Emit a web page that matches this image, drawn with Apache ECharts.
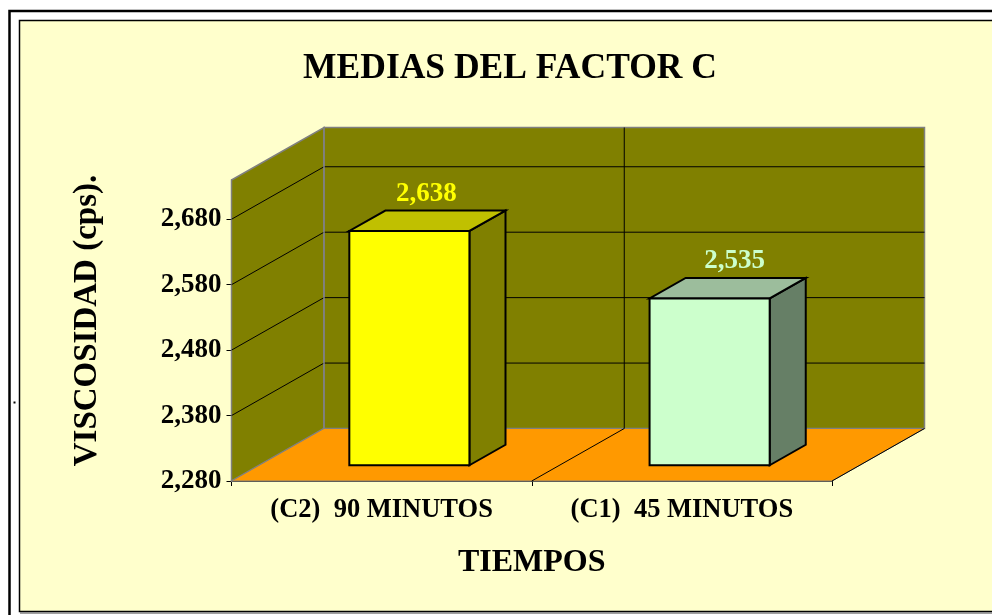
<!DOCTYPE html>
<html>
<head>
<meta charset="utf-8">
<style>
  html, body { margin: 0; padding: 0; background: #fff; }
  #box { width: 992px; height: 615px; }
</style>
<script src="https://cdn.jsdelivr.net/npm/echarts@6/dist/echarts.min.js"></script>
</head>
<body>
<div id="box"></div>
<script>
const categories = ['(C2)  90 MINUTOS', '(C1)  45 MINUTOS'];
const values = [2638, 2535];
const yTicks = [2280, 2380, 2480, 2580, 2680];
const yMin = 2280;
const yMax = 2740;

const barFronts = ['#ffff00', '#ccffcc'];
const barTops = ['#c0c000', '#9cbd9c'];
const barSides = ['#808000', '#667f66'];
const labelColors = ['#ffff00', '#ccffcc'];
const labelNudge = [-1, 7];

// chart depth in pixels, the bar sits in the middle of it
const depthX = 92.5;
const depthY = -52.5;
const barStart = 0.3;
const barDepth = 0.39;
const font = '"Liberation Serif", "Times New Roman", serif';

function fmt(v) {
  return String(v).replace(/\B(?=(\d{3})+$)/g, ',');
}

function renderWalls(params, api) {
  // category coords are band centres, so step half a band out to get the edges
  const band = api.size([1, 0])[0];
  const x0 = api.coord([0, yMin])[0] - band / 2;
  const x1 = x0 + band;
  const x2 = x1 + band;
  const yb = api.coord([0, yMin])[1];
  const yt = api.coord([0, yMax])[1];
  const a = [x0, yb];
  const b = [x2, yb];
  const c = [x0, yt];
  const d = [x2, yt];
  const mid = [x1, yb];
  const back = p => [p[0] + depthX, p[1] + depthY];
  const wall = { fill: '#808000', stroke: '#808080', lineWidth: 1.5 };
  const black = { fill: null, stroke: '#000', lineWidth: 1 };
  const children = [
    { type: 'polygon', shape: { points: [a, back(a), back(c), c] }, style: wall },
    { type: 'polygon', shape: { points: [back(a), back(b), back(d), back(c)] }, style: wall },
    { type: 'polygon', shape: { points: [a, b, back(b), back(a)] }, style: { fill: '#ff9900', stroke: '#808080', lineWidth: 1 } }
  ];
  yTicks.slice(1).forEach(t => {
    const y = api.coord([0, t])[1];
    const p = [x0, y];
    const q = [x2, y];
    children.push({ type: 'polyline', shape: { points: [p, back(p), back(q)] }, style: black });
  });
  // divider between the two categories
  children.push({ type: 'polyline', shape: { points: [mid, back(mid), back([x1, yt])] }, style: black });
  // floor edge on the right
  children.push({ type: 'polyline', shape: { points: [b, back(b)] }, style: black });
  // grey corner of the back wall goes over the grid lines
  children.push({ type: 'polyline', shape: { points: [back(a), back(c)] }, style: { fill: null, stroke: '#808080', lineWidth: 1.5 } });
  return { type: 'group', children };
}

function renderBar(params, api) {
  const i = params.dataIndex;
  const base = api.coord([api.value(0), yMin]);
  const top = api.coord([api.value(0), api.value(1)]);
  const w = api.size([1, 0])[0] * 0.4;
  const ox = depthX * barStart;
  const oy = depthY * barStart;
  const dx = depthX * barDepth;
  const dy = depthY * barDepth;
  const l = base[0] - w / 2 + ox;
  const r = base[0] + w / 2 + ox;
  const yb = base[1] + oy;
  const yt = top[1] + oy;
  const edge = { stroke: '#000', lineWidth: 2, lineJoin: 'miter' };
  return {
    type: 'group',
    children: [
      { type: 'polygon', shape: { points: [[r, yb], [r + dx, yb + dy], [r + dx, yt + dy], [r, yt]] }, style: Object.assign({ fill: barSides[i] }, edge) },
      { type: 'polygon', shape: { points: [[l, yt], [r, yt], [r + dx, yt + dy], [l + dx, yt + dy]] }, style: Object.assign({ fill: barTops[i] }, edge) },
      { type: 'rect', shape: { x: l, y: yt, width: r - l, height: yb - yt }, style: Object.assign({ fill: barFronts[i] }, edge) },
      {
        type: 'text',
        x: (l + r) / 2 + dx / 2 + labelNudge[i],
        y: yt + dy - 3,
        style: {
          text: fmt(api.value(1)),
          fill: labelColors[i],
          font: 'bold 27px ' + font,
          align: 'center',
          verticalAlign: 'bottom'
        }
      }
    ]
  };
}

let myChart = echarts.init(document.getElementById('box'), null, { renderer: 'canvas' });

let option = {
  animation: false,
  backgroundColor: '#ffffff',
  title: {
    text: 'MEDIAS DEL FACTOR C',
    left: 505,
    top: 46,
    textAlign: 'center',
    textStyle: { fontFamily: font, fontWeight: 'bold', fontSize: 35.5, color: '#000' }
  },
  grid: { left: 231.5, right: 160, top: 180, bottom: 134, containLabel: false },
  xAxis: {
    type: 'category',
    data: categories,
    boundaryGap: true,
    name: 'TIEMPOS',
    nameLocation: 'middle',
    nameGap: 66,
    nameTextStyle: { fontFamily: font, fontWeight: 'bold', fontSize: 32, color: '#000' },
    axisLine: { lineStyle: { color: '#000', width: 1.5 } },
    axisTick: { show: true, alignWithLabel: false, length: 5, lineStyle: { color: '#000' } },
    axisLabel: { fontFamily: font, fontWeight: 'bold', fontSize: 26.5, color: '#000', margin: 16 }
  },
  yAxis: {
    type: 'value',
    min: yMin,
    max: yMax,
    name: 'VISCOSIDAD (cps).',
    nameLocation: 'middle',
    nameRotate: 90,
    nameGap: 128,
    nameTextStyle: { fontFamily: font, fontWeight: 'bold', fontSize: 33, color: '#000', padding: [0, 0, 0, 20] },
    axisLine: { show: true, lineStyle: { color: '#404040', width: 1.5 } },
    axisTick: { show: true, length: 5, customValues: yTicks, lineStyle: { color: '#000' } },
    splitLine: { show: false },
    axisLabel: {
      customValues: yTicks,
      formatter: v => fmt(v),
      fontFamily: font,
      fontWeight: 'bold',
      fontSize: 27,
      color: '#000',
      margin: 10
    }
  },
  graphic: [
    { type: 'rect', z: -1, shape: { x: 9.5, y: 11, width: 1200, height: 1200 }, style: { fill: '#fff', stroke: '#000', lineWidth: 2.5 } },
    { type: 'rect', z: -1, shape: { x: 19.5, y: 20.5, width: 1200, height: 591 }, style: { fill: '#ffffcc', stroke: '#000', lineWidth: 1.5 } },
    { type: 'line', z: -1, shape: { x1: 20, y1: 613, x2: 992, y2: 613 }, style: { stroke: '#808080', lineWidth: 1.5 } },
    { type: 'rect', z: -1, shape: { x: 13.5, y: 401.5, width: 2, height: 2 }, style: { fill: '#000' } }
  ],
  series: [
    { type: 'custom', name: 'paredes', renderItem: renderWalls, data: [[0, yMin]], z: 1, silent: true, clip: false },
    { type: 'custom', name: 'medias', renderItem: renderBar, data: values.map((v, i) => [i, v]), z: 2, clip: false, encode: { x: 0, y: 1 } }
  ]
};

myChart.setOption(option);
</script>
</body>
</html>
